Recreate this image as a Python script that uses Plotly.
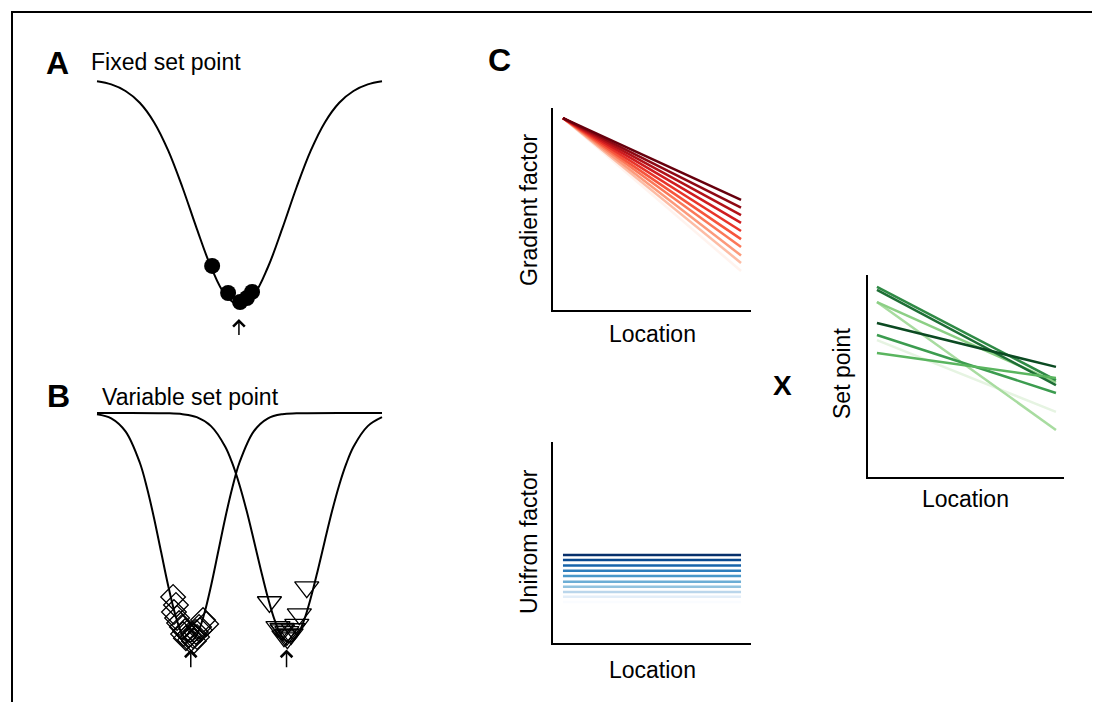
import plotly.graph_objects as go

# ---------------- data ----------------
# Panel A: fixed set point landscape (trait value vs. cost)
A_x = [0, 0.5, 1, 1.5, 2, 2.5, 3, 3.5, 4, 4.5, 5, 5.5, 6, 6.5, 7, 7.5, 8, 8.5, 9, 9.5, 10]
A_y = [0.990, 0.976, 0.947, 0.895, 0.809, 0.683, 0.520, 0.338, 0.168, 0.045, 0.0,
       0.045, 0.168, 0.338, 0.520, 0.683, 0.809, 0.895, 0.947, 0.976, 0.990]
A_dots_x = [4.04, 4.60, 5.02, 5.26, 5.44]
A_dots_y = [0.173, 0.053, 0.013, 0.031, 0.058]
A_arrow_x = [4.98]

# Panel B: variable set point landscapes
B1_x = [0, 0.5, 1.0, 1.5, 1.75, 2.0, 2.25, 2.5, 2.75, 3.0, 3.25, 3.5, 3.75, 4.0, 4.25,
        4.5, 4.75, 5.0, 5.5, 6.0, 6.5, 7.0, 10]
B1_y = [0.995, 0.977, 0.920, 0.784, 0.675, 0.542, 0.393, 0.245, 0.118, 0.031, 0.0, 0.031,
        0.118, 0.245, 0.393, 0.542, 0.675, 0.784, 0.920, 0.977, 0.995, 0.999, 1.0]
B2_x = [0, 2.5, 3.0, 3.5, 4.0, 4.5, 4.75, 5.0, 5.25, 5.5, 5.75, 6.0, 6.25, 6.5, 6.75,
        7.0, 7.25, 7.5, 7.75, 8.0, 8.25, 8.5, 8.75, 9.0, 9.5, 10]
B2_y = [1.0, 0.999, 0.995, 0.982, 0.943, 0.853, 0.780, 0.686, 0.573, 0.446, 0.315, 0.192,
        0.090, 0.023, 0.0, 0.023, 0.090, 0.192, 0.315, 0.446, 0.573, 0.686, 0.780, 0.853,
        0.943, 0.982]
B_diam_x = [2.67, 2.77, 2.70, 2.81, 2.88, 2.98, 3.09, 3.23, 3.26, 3.37, 3.47, 3.58, 3.72,
            3.83, 3.12, 3.40, 3.02, 3.51, 3.61]
B_diam_y = [0.197, 0.162, 0.131, 0.105, 0.083, 0.066, 0.048, 0.031, 0.009, 0.026, 0.044,
            0.066, 0.096, 0.079, 0.017, 0.004, 0.035, 0.022, 0.052]
B_tri_x = [6.05, 7.36, 7.10, 6.35, 7.01, 6.49, 6.51, 6.66, 6.66, 6.68, 6.81, 6.56, 6.88]
B_tri_y = [0.175, 0.240, 0.122, 0.066, 0.076, 0.059, 0.052, 0.044, 0.031, 0.017, 0.035,
           0.026, 0.057]
B_arrow_x = [3.29, 6.65]

# Panel C: factors along location
loc = [0, 1]
grad_start = 9.5
grad_end = [5.45, 5.07, 4.70, 4.31, 3.91, 3.51, 3.12, 2.70, 2.33, 1.93]
grad_colors = ['#67000d', '#8e0914', '#b11218', '#cf1c1f', '#e83429', '#f6553c',
               '#fb7858', '#fc9a7b', '#fdbca4', '#fff3ee']
unif_level = [4.38, 4.13, 3.85, 3.60, 3.33, 3.05, 2.80, 2.54, 2.30, 2.04]
unif_colors = ['#08306b', '#0a4a90', '#1764ab', '#2e7ebc', '#4a98c9', '#6daed5',
               '#94c4df', '#bad6eb', '#e3eef8', '#fafcff']
set_start = [6.78, 8.66, 8.66, 9.41, 9.26, 7.03, 6.14, 7.62]
set_end = [3.22, 2.33, 4.70, 4.80, 4.55, 4.16, 4.90, 5.45]
set_colors = ['#e6f4e2', '#a8dca0', '#8ccf85', '#2f8a45', '#1e6e35', '#3c9c4f',
              '#5ab55f', '#0b4a22']

FONT = "Liberation Sans, Arial, sans-serif"

fig = go.Figure()

# Panel A
fig.add_trace(go.Scatter(x=A_x, y=A_y, mode='lines', line=dict(color='black', width=2, shape='spline'),
                         xaxis='x', yaxis='y'))
fig.add_trace(go.Scatter(x=A_dots_x, y=A_dots_y, mode='markers',
                         marker=dict(color='black', size=16, line=dict(width=0)),
                         xaxis='x', yaxis='y'))

# Panel B
for bx, by in [(B1_x, B1_y), (B2_x, B2_y)]:
    fig.add_trace(go.Scatter(x=bx, y=by, mode='lines', line=dict(color='black', width=2, shape='spline'),
                             xaxis='x2', yaxis='y2'))
fig.add_trace(go.Scatter(x=B_diam_x, y=B_diam_y, mode='markers',
                         marker=dict(symbol='diamond-open', color='black', size=19, line=dict(width=1.3)),
                         xaxis='x2', yaxis='y2'))
fig.add_trace(go.Scatter(x=B_tri_x, y=B_tri_y, mode='markers',
                         marker=dict(symbol='triangle-down-open', color='black', size=21, line=dict(width=1.3)),
                         xaxis='x2', yaxis='y2'))

# Panel C gradient
for e, c in zip(reversed(grad_end), reversed(grad_colors)):
    fig.add_trace(go.Scatter(x=loc, y=[grad_start, e], mode='lines', line=dict(color=c, width=2.5),
                             xaxis='x3', yaxis='y3'))
# uniform
for lv, c in zip(reversed(unif_level), reversed(unif_colors)):
    fig.add_trace(go.Scatter(x=loc, y=[lv, lv], mode='lines', line=dict(color=c, width=2.5),
                             xaxis='x4', yaxis='y4'))
# set point
for s, e, c in zip(set_start, set_end, set_colors):
    fig.add_trace(go.Scatter(x=loc, y=[s, e], mode='lines', line=dict(color=c, width=2.5),
                             xaxis='x5', yaxis='y5'))

# the page body has an 8px margin; figure is sized to fill the rest of the window
OFF = 8
W, H = 1100 - OFF, 702 - OFF
def fx(p):
    return (p - OFF) / W
def fy(p):
    return 1 - (p - OFF) / H
def px_x(a, b):
    return [fx(a), fx(b)]
def px_y(top, bottom):
    return [fy(bottom), fy(top)]

hidden = dict(visible=False, showgrid=False, zeroline=False)
shown = dict(showline=True, linecolor='black', linewidth=2, showticklabels=False, ticks='',
             showgrid=False, zeroline=False, mirror=False)

fig.update_layout(
    width=W, height=H, margin=dict(l=0, r=0, t=0, b=0),
    paper_bgcolor='white', plot_bgcolor='rgba(0,0,0,0)', showlegend=False,
    template='none', font=dict(family=FONT, color='black', size=23),
    xaxis=dict(domain=px_x(88.45, 390.55), range=[-0.3, 10.3], anchor='y', **hidden),
    yaxis=dict(domain=px_y(67.7, 343.4), range=[-0.17, 1.05], anchor='x', **hidden),
    xaxis2=dict(domain=px_x(88.45, 390.55), range=[-0.3, 10.3], anchor='y2', **hidden),
    yaxis2=dict(domain=px_y(401.6, 676.4), range=[-0.15, 1.05], anchor='x2', **hidden),
    xaxis3=dict(domain=px_x(553, 751), range=[-0.056, 1.056], anchor='y3', **shown),
    yaxis3=dict(domain=px_y(108, 310), range=[0, 10], anchor='x3', **shown),
    xaxis4=dict(domain=px_x(553, 751), range=[-0.056, 1.056], anchor='y4', **shown),
    yaxis4=dict(domain=px_y(442, 643), range=[0, 10], anchor='x4', **shown),
    xaxis5=dict(domain=px_x(868, 1064), range=[-0.05, 1.045], anchor='y5', **shown),
    yaxis5=dict(domain=px_y(275, 477), range=[0, 10], anchor='x5', **shown),
)

ann = []
def txt(x, y, s, size=23, bold=False, angle=0, xanchor='center'):
    ann.append(dict(x=fx(x), y=fy(y), xref='paper', yref='paper', text=f"<b>{s}</b>" if bold else s,
                    showarrow=False, textangle=angle, xanchor=xanchor, yanchor='middle',
                    font=dict(size=size, family=FONT, color='black')))

txt(57.5, 63, 'A', size=32, bold=True)
txt(89, 62.5, 'Fixed set point', xanchor='left')
txt(58, 396, 'B', size=32, bold=True)
txt(100, 396.5, 'Variable set point', xanchor='left')
txt(499, 60, 'C', size=32, bold=True)
txt(782.5, 385, 'X', size=28, bold=True)
txt(529, 210, 'Gradient factor', angle=-90)
txt(652, 334, 'Location')
txt(529, 542, 'Unifrom factor', angle=-90)
txt(652, 670, 'Location')
txt(842, 374, 'Set point', angle=-90)
txt(965.5, 499, 'Location')

# arrows under the wells
for ax_x, ax_y, xs, tip, tail in [('x', 'y', A_arrow_x, -0.062, -0.14), ('x2', 'y2', B_arrow_x, -0.033, -0.117)]:
    for xv in xs:
        ann.append(dict(x=xv, y=tip, ax=xv, ay=tail, xref=ax_x, yref=ax_y, axref=ax_x, ayref=ax_y,
                        text='', showarrow=True, arrowhead=4, arrowsize=1.5, arrowwidth=1.5,
                        arrowcolor='black', standoff=0, startstandoff=0))
fig.update_layout(annotations=ann)

# frame (open at the bottom)
fig.add_shape(type='path', xref='paper', yref='paper',
              path=f"M {fx(12)},-0.05 L {fx(12)},{fy(12)} L {fx(1097)},{fy(12)} L {fx(1097)},-0.05",
              line=dict(color='black', width=2))

fig.write_html("out.html")
